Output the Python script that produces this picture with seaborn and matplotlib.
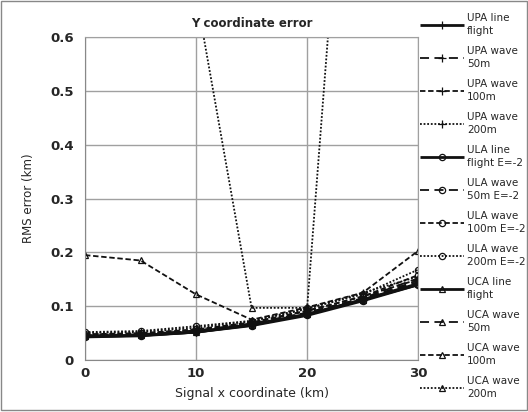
import matplotlib
matplotlib.use("Agg")
import matplotlib.pyplot as plt
import seaborn as sns
import pandas as pd
from matplotlib.patches import Rectangle

x_km = [0, 5, 10, 15, 20, 25, 30]

labels = ["UPA line\nflight", "UPA wave\n50m", "UPA wave\n100m", "UPA wave\n200m",
          "ULA line\nflight E=-2", "ULA wave\n50m E=-2", "ULA wave\n100m E=-2", "ULA wave\n200m E=-2",
          "UCA line\nflight", "UCA wave\n50m", "UCA wave\n100m", "UCA wave\n200m"]

upa_line = [0.044, 0.046, 0.052, 0.065, 0.085, 0.112, 0.140]
upa_50 = [0.045, 0.047, 0.053, 0.067, 0.088, 0.114, 0.145]
upa_100 = [0.047, 0.049, 0.056, 0.069, 0.091, 0.118, 0.150]
upa_200 = [0.050, 0.052, 0.060, 0.072, 0.095, 0.125, 0.155]
ula_line = [0.043, 0.045, 0.052, 0.064, 0.083, 0.110, 0.140]
ula_50 = [0.045, 0.047, 0.054, 0.067, 0.087, 0.113, 0.148]
ula_100 = [0.048, 0.050, 0.057, 0.070, 0.092, 0.118, 0.158]
ula_200 = [0.052, 0.054, 0.063, 0.073, 0.096, 0.122, 0.168]
uca_line = [0.044, 0.046, 0.052, 0.066, 0.085, 0.112, 0.142]
uca_50 = [0.046, 0.048, 0.055, 0.068, 0.088, 0.115, 0.152]
uca_100 = [0.195, 0.185, 0.122, 0.075, 0.098, 0.125, 0.203]
uca_200 = [1.5, 1.0, 0.68, 0.097, 0.097, 1.44, 2.0]

series = [upa_line, upa_50, upa_100, upa_200, ula_line, ula_50, ula_100, ula_200,
          uca_line, uca_50, uca_100, uca_200]

sns.set_style("white")
plt.rcParams['font.family'] = ['DejaVu Sans']

fig = plt.figure(figsize=(5.28, 4.12), dpi=100)
fig.patches.append(Rectangle((0.002, 0.004), 0.996, 0.993, transform=fig.transFigure,
                             fill=False, edgecolor='#888888', linewidth=1.0))
ax = fig.add_axes([0.161, 0.126, 0.631, 0.784])

styles = [(0, ()), (0, (5, 3)), (0, (3, 1.5)), (0, (1, 1))]
markers = ['+', 'o', '^']
for i, (lab, vals) in enumerate(zip(labels, series)):
    grp, var = divmod(i, 4)
    df = pd.DataFrame({"x": x_km, "y": vals})
    lw = 2.0 if var == 0 else 1.3
    sns.lineplot(data=df, x="x", y="y", ax=ax, color='#111111', linestyle=styles[var],
                 linewidth=lw, marker=markers[grp], markersize=6 if grp == 0 else 4.5,
                 markerfacecolor='none' if grp else 'black', markeredgecolor='#111111',
                 markeredgewidth=0.9, label=lab, clip_on=True)

ax.set_xlim(0, 30)
ax.set_ylim(0, 0.6)
ax.set_xticks([0, 10, 20, 30])
ax.set_yticks([0, 0.1, 0.2, 0.3, 0.4, 0.5, 0.6])
ax.set_yticklabels(["0", "0.1", "0.2", "0.3", "0.4", "0.5", "0.6"])
ax.grid(True, color='#a0a0a0', linewidth=1.0)
for s in ['top', 'right']:
    ax.spines[s].set_color('#a0a0a0')
for s in ['left', 'bottom']:
    ax.spines[s].set_color('#888888')
ax.tick_params(axis='x', length=0, labelsize=9.5, pad=5)
ax.tick_params(axis='y', length=0, labelsize=9.5, pad=8)
for t in ax.get_xticklabels() + ax.get_yticklabels():
    t.set_fontweight('bold')
ax.set_xlabel("Signal x coordinate (km)", fontsize=9, labelpad=5)
ax.set_ylabel("RMS error (km)", fontsize=8.5, labelpad=11)
ax.set_title("Y coordinate error", fontsize=8.5, fontweight='bold', pad=7)

handles, labs = ax.get_legend_handles_labels()
if ax.get_legend():
    ax.get_legend().remove()
leg = fig.legend(handles, labs, loc='upper left', bbox_to_anchor=(0.788, 0.978),
                 frameon=False, fontsize=7.5, handlelength=4.2, handletextpad=0.3,
                 labelspacing=0.98, borderaxespad=0)
for t in leg.get_texts():
    t.set_linespacing(1.35)

fig.savefig("out.png", dpi=100)
